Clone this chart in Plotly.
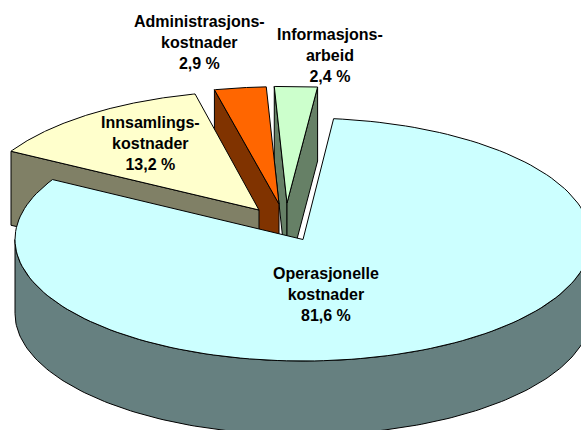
import numpy as np
import plotly.graph_objects as go

# Data
categories = ["Operasjonelle<br>kostnader", "Innsamlings-<br>kostnader",
              "Administrasjons-<br>kostnader", "Informasjons-<br>arbeid"]
values = [81.6, 13.2, 2.9, 2.4]

# Styles / projection settings
top_colors = ["#CCFFFF", "#FFFFCC", "#FF6600", "#CCFFCC"]
side_colors = ["#668080", "#808066", "#803300", "#668066"]
START_ANGLE = 6.1
W, H = 581, 430
CX, CY, RX, RY, DEPTH_PX = 303, 239.5, 288, 121.5, 74
DEPTH = DEPTH_PX / RY
explode = [(0, 0), (-44 / RX, -29.5 / RY), (-24 / RX, -35.5 / RY), (-16 / RX, -36.5 / RY)]
radial_x = [1.0, 0.99, 1.0, 1.0]
radial_y = [1.0, 0.98, 0.965, 0.96]
label_pos = [(23 / RX, 54.5 / RY), (-153 / RX, -96.5 / RY), (-104 / RX, -197.5 / RY), (27 / RX, -184.5 / RY)]

shares = np.array(values) / sum(values) * 360
starts = START_ANGLE + np.concatenate([[0], np.cumsum(shares)[:-1]])


def rim(i, a0, a1, n=160):
    t = np.radians(np.linspace(a0, a1, n))
    ox, oy = explode[i]
    return ox + np.sin(t) * radial_x[i], oy - np.cos(t) * radial_y[i]


def face(x, y, color):
    return go.Scatter(x=list(x), y=list(y), mode="lines", fill="toself", fillcolor=color,
                      line=dict(color="black", width=1), hoverinfo="skip", showlegend=False)


def cut_wall(i, angle, color):
    ox, oy = explode[i]
    ex, ey = rim(i, angle, angle, 1)
    return face([ex[0], ox, ox, ex[0], ex[0]],
                [ey[0], oy, oy + DEPTH, ey[0] + DEPTH, ey[0]], color)


def top_face(i):
    ox, oy = explode[i]
    ex, ey = rim(i, starts[i], starts[i] + shares[i])
    return face(np.r_[ox, ex, ox], np.r_[oy, ey, oy], top_colors[i])


fig = go.Figure()

# Painter's order: farthest slices first, the big front slice last
fig.add_trace(cut_wall(3, starts[3], side_colors[3]))
fig.add_trace(cut_wall(3, starts[3] + shares[3], side_colors[3]))
fig.add_trace(top_face(3))
fig.add_trace(cut_wall(2, starts[2], side_colors[2]))
fig.add_trace(top_face(2))
fig.add_trace(cut_wall(1, starts[1], side_colors[1]))
fig.add_trace(top_face(1))

wx, wy = rim(0, 90, 270)
fig.add_trace(face(np.r_[wx, wx[::-1], wx[0]], np.r_[wy, wy[::-1] + DEPTH, wy[0]], side_colors[0]))
fig.add_trace(top_face(0))

for name, val, (lx, ly) in zip(categories, values, label_pos):
    fig.add_annotation(x=lx, y=ly, xref="x", yref="y", showarrow=False, align="center",
                       text=f"<b>{name}<br>{str(val).replace('.', ',')} %</b>",
                       font=dict(family="Liberation Sans, Arial, sans-serif", size=16, color="black"))

fig.update_layout(
    width=W, height=H, margin=dict(l=0, r=0, t=0, b=0),
    paper_bgcolor="white", plot_bgcolor="white", showlegend=False,
    xaxis=dict(visible=False, range=[-CX / RX, (W - CX) / RX], fixedrange=True),
    yaxis=dict(visible=False, range=[(H - CY) / RY, -CY / RY], fixedrange=True),
)
fig.write_html("out.html", config={"displayModeBar": False},
               post_script="document.body.style.margin='0';")
